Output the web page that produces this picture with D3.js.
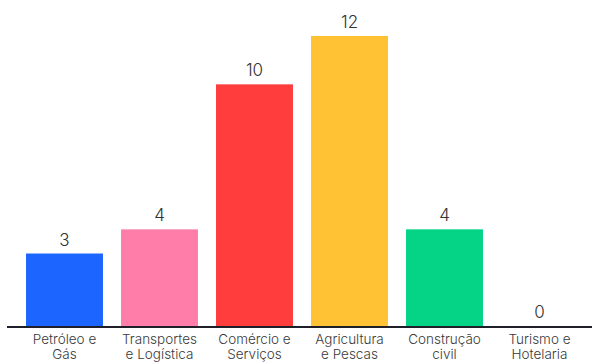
<!DOCTYPE html>
<html>
<head>
<meta charset="utf-8">
<script src="https://cdn.jsdelivr.net/npm/d3@7"></script>
<style>
  body { margin: 0; background: #fff; }
  text { font-family: Inter, "Noto Sans", sans-serif; }
</style>
</head>
<body>
<div id="chart"></div>
<script>
// data
const sectors = ["Petróleo e|Gás", "Transportes|e Logística", "Comércio e|Serviços", "Agricultura|e Pescas", "Construção|civil", "Turismo e|Hotelaria"];
const counts = [3, 4, 10, 12, 4, 0];
const colors = ["#1c66ff", "#ff7ea9", "#ff3d3d", "#ffc234", "#05d386", "#9aa0a6"];

const w = 592;
const h = 363;
const base = 326;

const svg = d3.select("#chart")
      .append("svg")
      .attr("width", w)
      .attr("height", h);

const x = d3.scaleBand()
      .domain(sectors)
      .range([17, 587])
      .paddingInner(0.19)
      .paddingOuter(0.095);

const y = d3.scaleLinear()
      .domain([0, 12])
      .range([base, 36]);

// bars
svg.selectAll("rect")
      .data(counts)
      .enter()
      .append("rect")
      .attr("x", (d, i) => x(sectors[i]))
      .attr("y", (d) => y(d))
      .attr("width", x.bandwidth())
      .attr("height", (d) => base - y(d))
      .style("fill", (d, i) => colors[i]);

// value labels
svg.selectAll(".val")
      .data(counts)
      .enter()
      .append("text")
      .attr("class", "val")
      .attr("x", (d, i) => x(sectors[i]) + x.bandwidth() / 2)
      .attr("y", (d) => y(d) - 8)
      .attr("text-anchor", "middle")
      .style("font-size", "17px")
      .style("font-weight", 300)
      .style("fill", "#333")
      .text((d) => d);

// axis line
svg.append("line")
      .attr("x1", 7)
      .attr("x2", w)
      .attr("y1", base + 1)
      .attr("y2", base + 1)
      .style("stroke", "#1f1f2a")
      .style("stroke-width", 2);

// category labels
const lab = svg.selectAll(".cat")
      .data(sectors)
      .enter()
      .append("text")
      .attr("class", "cat")
      .attr("text-anchor", "middle")
      .style("font-size", "13.5px")
      .style("font-weight", 300)
      .style("fill", "#3a3a3a");

lab.each(function (d) {
      const parts = d.split("|");
      const cx = x(d) + x.bandwidth() / 2;
      parts.forEach((p, k) => {
            d3.select(this).append("tspan")
                  .attr("x", cx)
                  .attr("y", 344 + k * 15)
                  .text(p);
      });
});
</script>
</body>
</html>
